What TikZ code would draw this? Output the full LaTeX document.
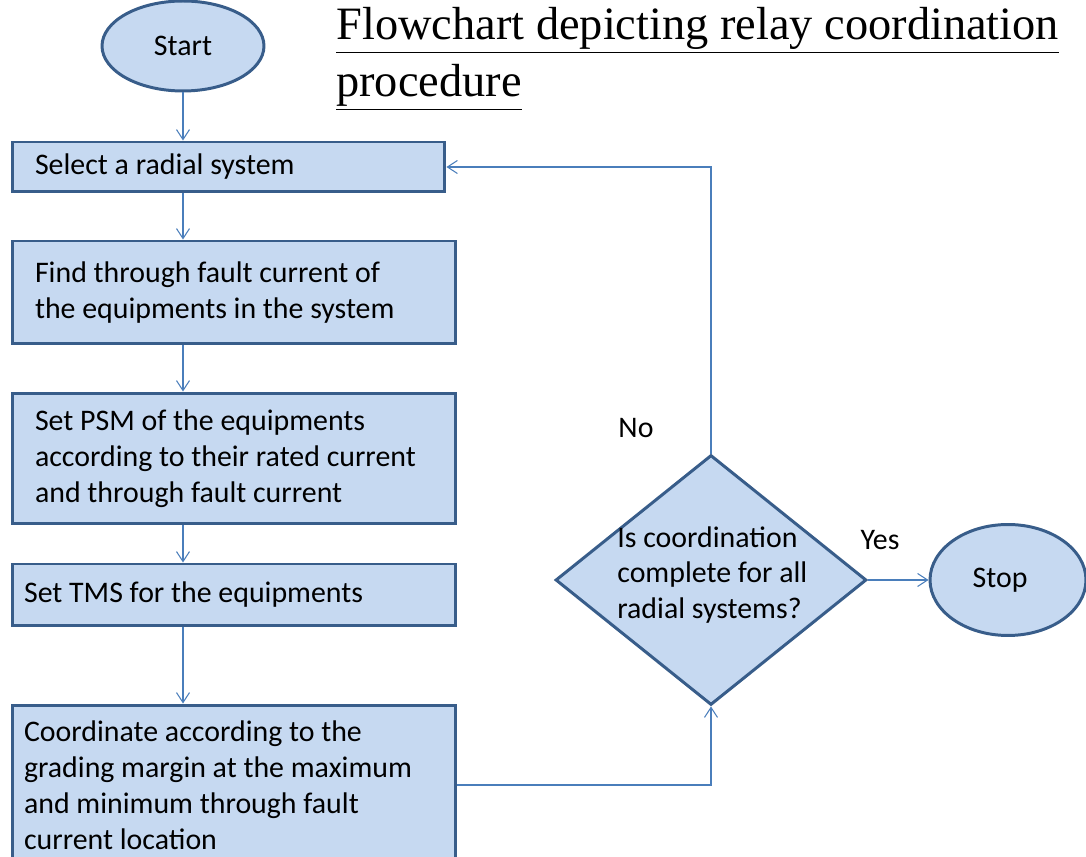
\documentclass[tikz,border=0pt]{standalone}
\usepackage{fontspec}
\setmainfont{Liberation Serif}
\newfontfamily\boxfont{Carlito}
\usepackage{tikz}
\usetikzlibrary{arrows.meta,shapes.geometric,positioning}
\definecolor{boxfill}{HTML}{C6D9F1}
\definecolor{boxline}{HTML}{385D8A}
\definecolor{flowline}{HTML}{4A7EBB}

\begin{document}
\begin{tikzpicture}[x=0.02cm,y=-0.02cm,
                    proc node/.style={rectangle,draw=boxline,fill=boxfill,line width=1.7pt,font=\boxfont\fontsize{17}{20.4}\selectfont,align=flush left,inner ysep=0pt},
                    term node/.style={ellipse,draw=boxline,fill=boxfill,line width=1.7pt,font=\boxfont\fontsize{17}{20.4}\selectfont,inner sep=0pt},
                    dec node/.style={diamond,draw=boxline,fill=boxfill,line width=1.7pt,inner sep=0pt},
                    plain node/.style={font=\boxfont\fontsize{17}{20.4}\selectfont,align=left,inner sep=0pt},
                    flow/.style={draw=flowline,line width=0.6pt,-{Straight Barb[length=2mm,width=2.6mm]}}]
\useasboundingbox (0,0) rectangle (1086,857);

%Title
 \node[font=\fontsize{26.4}{31.7}\selectfont,anchor=base west,inner sep=0pt] (title1) at (336,40) {\underline{Flowchart depicting relay coordination}};
 \node[font=\fontsize{26.4}{31.7}\selectfont,anchor=base west,inner sep=0pt] (title2) at (336,97) {\underline{procedure}};

%Left column
 \node[term node,minimum width=3.24cm,minimum height=1.8cm] (start) at (183,46) {Start};
 \node[proc node,inner xsep=0.46cm,text width=7.74cm,minimum height=1.0cm] (select) at (228.5,167) {Select a radial system};
 \node[proc node,inner xsep=0.46cm,text width=7.96cm,minimum height=2.06cm] (fault) at (234,292.5) {Find through fault current of\\the equipments in the system};
 \node[proc node,inner xsep=0.46cm,text width=7.96cm,minimum height=2.62cm] (psm) at (234,458.5) {Set PSM of the equipments\\according to their rated current\\and through fault current};
 \node[proc node,inner xsep=0.24cm,text width=8.4cm,minimum height=1.24cm] (tms) at (234,595) {Set TMS for the equipments};
 \node[proc node,inner xsep=0.24cm,text width=8.4cm,minimum height=3.2cm] (grade) at (234,785) {Coordinate according to the\\grading margin at the maximum\\and minimum through fault\\current location};

%Decision and stop
 \node[dec node,minimum width=6.22cm,minimum height=5.0cm] (check) at (711,580) {};
 \node[plain node,anchor=west] (question) at (617,575) {Is coordination\\complete for all\\radial systems?};
 \node[term node,minimum width=3.12cm,minimum height=2.22cm] (stop) at (1008,580) {};
 \node[plain node] (stoptext) at (1000,580) {Stop};
 \node[plain node] (no) at (636,428) {No};
 \node[plain node] (yes) at (880,540) {Yes};

%Connectors
 \draw[flow] (start.south) -- (start.south |- select.north);
 \foreach \a/\b in {select/fault,fault/psm,psm/tms,tms/grade}
    \draw[flow] (start.south |- \a.south) -- (start.south |- \b.north);
 \draw[flow] (grade.east) -| (check.south);
 \draw[flow] (check.north) |- (select.east);
 \draw[flow] (check.east) -- (stop.west);

\end{tikzpicture}
\end{document}
